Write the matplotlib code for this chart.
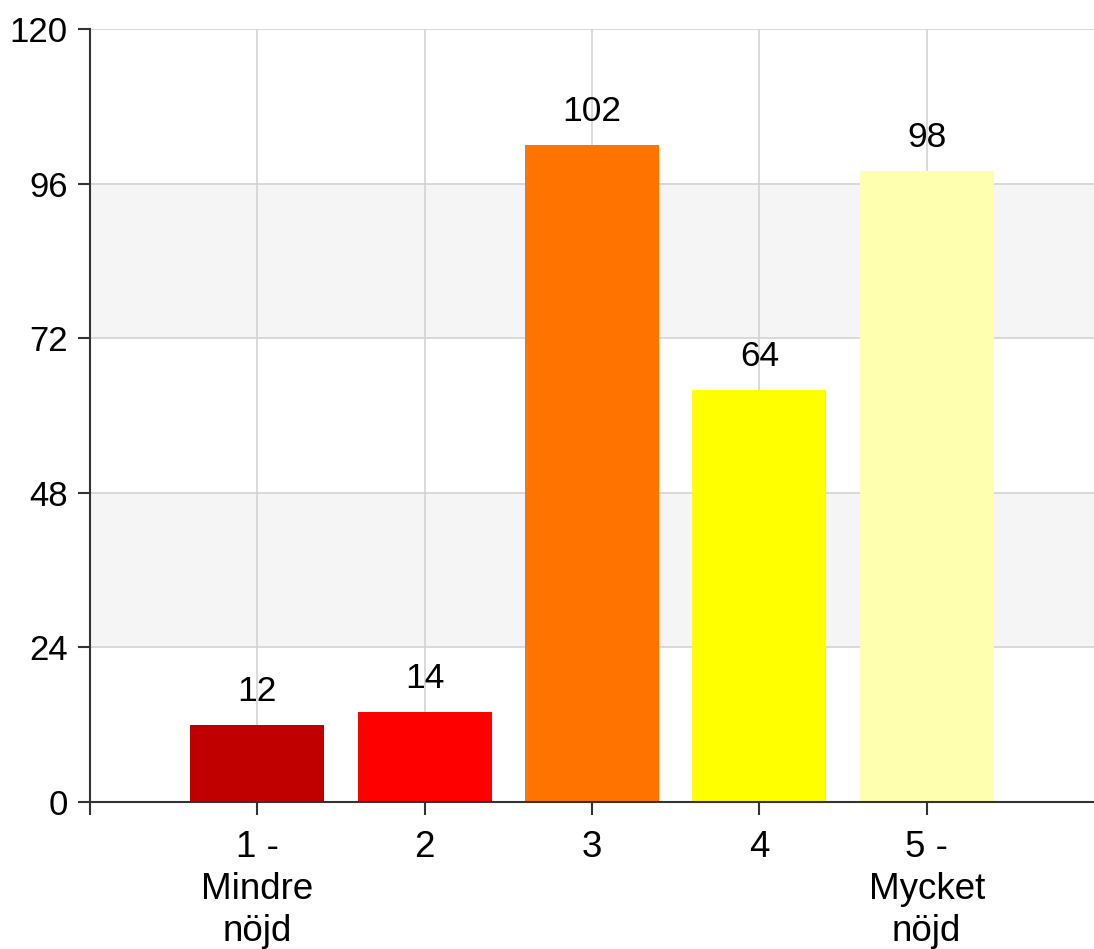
import matplotlib
matplotlib.use("Agg")
import matplotlib.pyplot as plt

categories = ["1 -\nMindre\nnöjd", "2", "3", "4", "5 -\nMycket\nnöjd"]
values = [12, 14, 102, 64, 98]
colors = ["#C00000", "#FF0000", "#FF7300", "#FFFF00", "#FFFFB0"]
yticks = [0, 24, 48, 72, 96, 120]

plt.rcParams['font.family'] = ['Liberation Sans', 'DejaVu Sans']

W, H = 1094, 949
fig = plt.figure(figsize=(W/100, H/100), dpi=100)
ax = fig.add_axes([90/W, 1-802/H, (W-90)/W, (802-29)/H])

# alternating bands
for lo, hi in [(24, 48), (72, 96)]:
    ax.axhspan(lo, hi, color="#F5F5F5", zorder=0, lw=0)

x = list(range(len(categories)))
ax.bar(x, values, width=0.8, color=colors, zorder=3)
for xi, v in zip(x, values):
    ax.annotate(str(v), (xi, v), xytext=(0, 12), textcoords="offset points",
                ha="center", va="bottom", fontsize=25.5, zorder=4)

ax.set_xlim(-1, 5)
ax.set_ylim(0, 120)
ax.set_yticks(yticks)
ax.set_yticklabels([str(t) for t in yticks], fontsize=25)
ax.set_xticks([-1] + x)
ax.set_xticklabels([""] + categories, fontsize=26.5, linespacing=1.27)

ax.grid(True, color="#D3D3D3", lw=1.2, zorder=1)
ax.set_axisbelow(True)
for s in ["top", "right"]:
    ax.spines[s].set_visible(False)
for s in ["left", "bottom"]:
    ax.spines[s].set_color("#333333")
    ax.spines[s].set_linewidth(1.5)
    ax.spines[s].set_zorder(5)
ax.tick_params(axis="both", length=9, width=1.5, color="#333333")
ax.tick_params(axis="y", pad=7)
ax.tick_params(axis="x", pad=11)

fig.savefig("out.png", dpi=100)
